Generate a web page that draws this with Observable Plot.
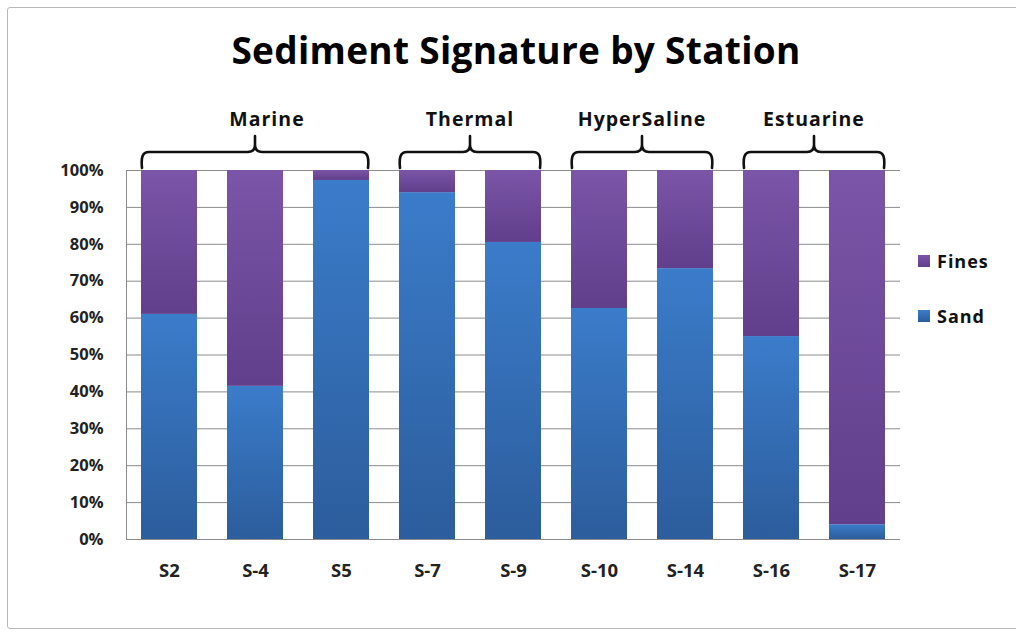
<!DOCTYPE html>
<html>
<head>
<meta charset="utf-8">
<script src="https://cdn.jsdelivr.net/npm/d3@7"></script>
<script src="https://cdn.jsdelivr.net/npm/@observablehq/plot@0.6"></script>
<style>
  html, body { margin: 0; padding: 0; background: #fff; }
  #wrap { position: relative; width: 1016px; height: 632px; overflow: hidden; font-family: "Open Sans", sans-serif; }
  #frame { position: absolute; left: 7px; top: 7px; width: 1100px; height: 622px; border: 1.5px solid #b8b8b8; border-radius: 3px; box-sizing: border-box; }
  #chart { position: absolute; left: 0; top: 0; }
</style>
</head>
<body>
<div id="wrap"><div id="frame"></div><div id="chart"></div></div>
<script>
const title = "Sediment Signature by Station";
const stations = ["S2", "S-4", "S5", "S-7", "S-9", "S-10", "S-14", "S-16", "S-17"];
const sand  = [61, 41.5, 97.3, 94, 80.5, 62.6, 73.4, 55, 4];
const fines = [39, 58.5, 2.7, 6, 19.5, 37.4, 26.6, 45, 96];
const groups = ["Marine", "Thermal", "HyperSaline", "Estuarine"];
const groupFirst = ["S2", "S-7", "S-10", "S-16"];
const groupLast  = ["S5", "S-9", "S-14", "S-17"];
const yTicks = [0, 10, 20, 30, 40, 50, 60, 70, 80, 90, 100];
const seriesNames = ["Fines", "Sand"];

const FONT = "'Open Sans', Lato, sans-serif";

const rows = [];
stations.forEach((s, i) => {
  rows.push({station: s, type: "Sand", value: sand[i]});
  rows.push({station: s, type: "Fines", value: fines[i]});
});

const NS = "http://www.w3.org/2000/svg";
function el(name, attrs, text) {
  const e = document.createElementNS(NS, name);
  for (const k in attrs) e.setAttribute(k, attrs[k]);
  if (text != null) e.textContent = text;
  return e;
}

function defsMark() {
  const g = el("g", {});
  const defs = el("defs", {});
  const mk = (id, c0, c1) => {
    const lg = el("linearGradient", {id, x1: 0, y1: 0, x2: 0, y2: 1});
    lg.appendChild(el("stop", {offset: "0%", "stop-color": c0}));
    lg.appendChild(el("stop", {offset: "100%", "stop-color": c1}));
    defs.appendChild(lg);
  };
  mk("gSand", "#3b7cca", "#2c5d9c");
  mk("gFines", "#7b55a7", "#613f8c");
  g.appendChild(defs);
  return g;
}

function decorMark(index, scales, values, dimensions) {
  const x = scales.x;
  const bw = typeof x.bandwidth === "function" ? x.bandwidth() : scales.scales.x.bandwidth;
  const {marginTop, marginLeft, marginBottom, height, width, marginRight} = dimensions;
  const g = el("g", {"text-anchor": "start"});
  // left axis line
  g.appendChild(el("line", {x1: marginLeft + 0.5, x2: marginLeft + 0.5, y1: marginTop, y2: height - marginBottom, stroke: "#8c8c8c", "stroke-width": 1}));
  const yt = marginTop - 18, yb = marginTop - 2, yc = marginTop - 34, r = 7;
  groups.forEach((name, i) => {
    const x0 = x(groupFirst[i]) + 1;
    const x1 = x(groupLast[i]) + bw - 1;
    const xm = (x0 + x1) / 2;
    const d = `M${x0},${yb} C${x0 - 1},${yt + 6} ${x0},${yt} ${x0 + r},${yt} L${xm - r},${yt} Q${xm},${yt} ${xm},${yt - r} L${xm},${yc}` +
              ` M${xm},${yt - r} Q${xm},${yt} ${xm + r},${yt} L${x1 - r},${yt} C${x1},${yt} ${x1 + 1},${yt + 6} ${x1},${yb}`;
    g.appendChild(el("path", {d, fill: "none", stroke: "#111", "stroke-width": 2.6, "stroke-linecap": "round", "stroke-linejoin": "round"}));
    g.appendChild(el("text", {x: xm + (i === 0 ? 12 : 0), y: marginTop - 44, "text-anchor": "middle", "font-size": 19.5, "font-weight": 700, "letter-spacing": 1, fill: "#111", "font-family": FONT}, name));
  });
  // title
  g.appendChild(el("text", {x: (marginLeft + width - marginRight) / 2 + 3, y: 64, "text-anchor": "middle", "font-size": 37, "font-weight": 700, "letter-spacing": 0.3, fill: "#000", "font-family": FONT}, title));
  // legend
  const legendX = width - marginRight + 18;
  const legendY = {Fines: 261, Sand: 316};
  seriesNames.forEach(n => {
    g.appendChild(el("rect", {x: legendX, y: legendY[n] - 6, width: 12, height: 12, fill: n === "Sand" ? "url(#gSand)" : "url(#gFines)"}));
    g.appendChild(el("text", {x: legendX + 19, y: legendY[n] + 6.5, "text-anchor": "start", "font-size": 18, "font-weight": 700, "letter-spacing": 1, fill: "#111", "font-family": FONT}, n));
  });
  return g;
}

const chart = Plot.plot({
  width: 1016,
  height: 632,
  marginLeft: 126,
  marginRight: 116,
  marginTop: 170,
  marginBottom: 93,
  style: {fontFamily: FONT, background: "transparent"},
  x: {domain: stations, paddingInner: 0.35, paddingOuter: 0.175, label: null, tickSize: 0, tickPadding: 24},
  y: {domain: [0, 100], ticks: yTicks, tickFormat: d => d + "%", label: null, tickSize: 0, tickPadding: 23},
  color: {domain: seriesNames, range: ["url(#gFines)", "url(#gSand)"]},
  marks: [
    defsMark,
    Plot.gridY(yTicks, {stroke: "#8c8c8c", strokeOpacity: 1, strokeWidth: 1}),
    Plot.barY(rows, Plot.stackY({x: "station", y: "value", fill: "type", z: "type", order: ["Sand", "Fines"]})),
    Plot.axisY(yTicks, {tickSize: 0, tickPadding: 23, tickFormat: d => d + "%", fontSize: 16.5, fontWeight: 700, fill: "#222", label: null}),
    Plot.axisX({tickSize: 0, tickPadding: 24, fontSize: 18.5, fontWeight: 700, fill: "#222", label: null, style: {letterSpacing: "1.2px"}}),
    decorMark
  ]
});
document.getElementById("chart").appendChild(chart);
</script>
</body>
</html>
